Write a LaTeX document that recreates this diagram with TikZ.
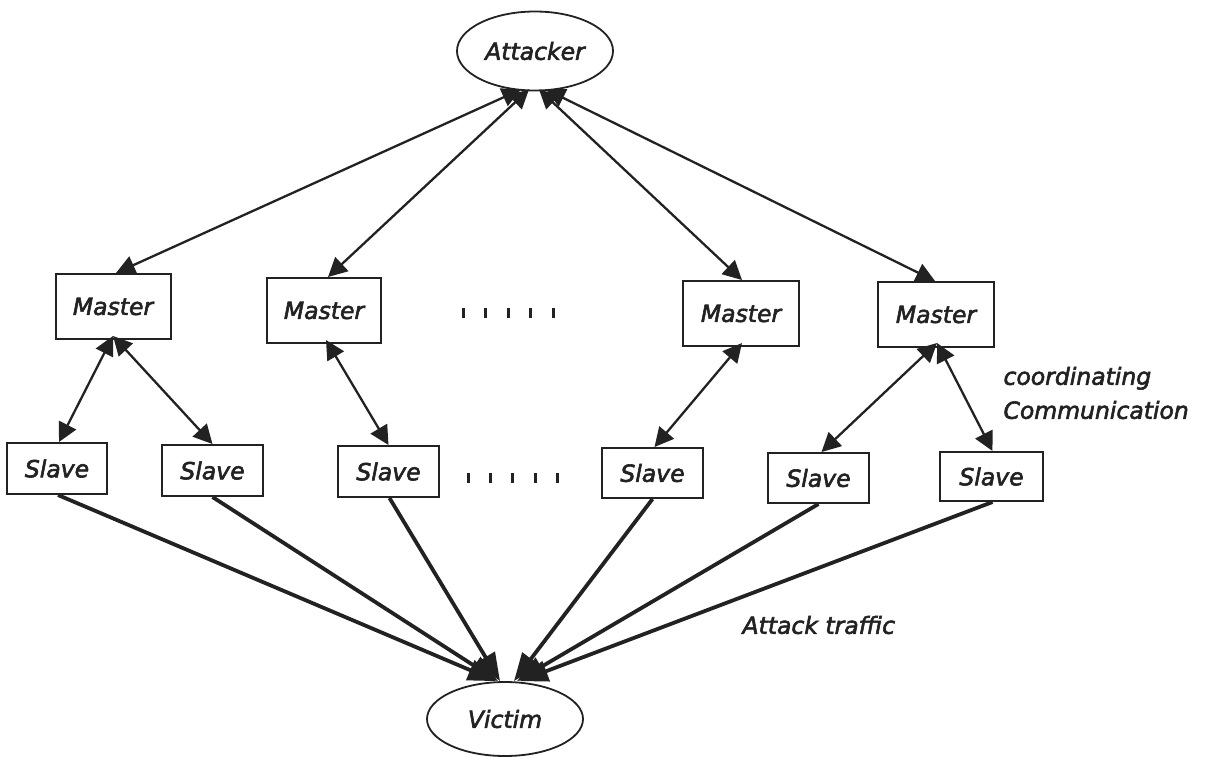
\documentclass[tikz,border=0pt]{standalone}
\usepackage{fontspec}
\setmainfont{DejaVu Sans}
\newfontfamily\lblfont{DejaVu Sans}[ItalicFeatures={FakeBold=2.5}]
\usetikzlibrary{arrows.meta,shapes.geometric}
\definecolor{ink}{HTML}{222222}
\begin{document}
\begin{tikzpicture}[x=1pt,y=-1pt,
  every node/.style={font=\fontsize{23.5}{34}\selectfont\lblfont\itshape, text=ink},
  ellnode/.style={ellipse, draw=ink, line width=1.8pt, inner sep=0pt},
  boxnode/.style={rectangle, draw=ink, line width=2pt, inner sep=0pt},
  ctrl/.style={draw=ink, line width=2.3pt, {Triangle[length=19pt,width=19pt]}-{Triangle[length=19pt,width=19pt]}},
  traffic/.style={draw=ink, line width=3.8pt, -{Triangle[length=28pt,width=21pt]}},
  dotbar/.style={draw=ink, line width=3pt}
]
\useasboundingbox (0,0) rectangle (1205,756);

\node[ellnode, minimum width=156pt, minimum height=79pt] (att) at (535,51) {Attacker};
\node[ellnode, minimum width=156pt, minimum height=74pt] (vic) at (505,719) {Victim};

\node[boxnode, minimum width=115pt, minimum height=65pt] (m1) at (113,306.5) {Master};
\node[boxnode, minimum width=114pt, minimum height=65pt] (m2) at (324,310.5) {Master};
\node[boxnode, minimum width=116pt, minimum height=65pt] (m3) at (741,313.5) {Master};
\node[boxnode, minimum width=116pt, minimum height=65pt] (m4) at (936,314.5) {Master};

\node[boxnode, minimum width=100pt, minimum height=51pt] (s1) at (57,468.5) {Slave};
\node[boxnode, minimum width=101pt, minimum height=51pt] (s2) at (212.5,470.5) {Slave};
\node[boxnode, minimum width=101pt, minimum height=51pt] (s3) at (388.5,471.5) {Slave};
\node[boxnode, minimum width=101pt, minimum height=50pt] (s4) at (652.5,473) {Slave};
\node[boxnode, minimum width=101pt, minimum height=50pt] (s5) at (818.5,478) {Slave};
\node[boxnode, minimum width=103pt, minimum height=49pt] (s6) at (991.5,476.5) {Slave};

\node[anchor=west, align=left] (coord) at (1000,393) {coordinating\\Communication};
\node[anchor=west] (traf) at (739,625) {Attack traffic};

% attacker <-> masters
\draw[ctrl] ([xshift=3pt]m1.north) -- ([xshift=-14pt,yshift=2pt]att.south);
\draw[ctrl] ([xshift=4pt]m2.north) -- ([xshift=-6pt,yshift=2pt]att.south);
\draw[ctrl] ([xshift=1pt]m3.north) -- ([xshift=4pt,yshift=2pt]att.south);
\draw[ctrl] ([xshift=-1pt]m4.north) -- ([xshift=11pt,yshift=2pt]att.south);

% masters <-> slaves
\draw[ctrl] ([yshift=4pt]m1.south) -- ([xshift=2pt]s1.north);
\draw[ctrl] ([yshift=4pt]m1.south) -- (s2.north);
\draw[ctrl] ([xshift=2pt,yshift=4pt]m2.south) -- (s3.north);
\draw[ctrl] ([xshift=1pt,yshift=4pt]m3.south) -- ([xshift=2pt]s4.north);
\draw[ctrl] ([xshift=1pt,yshift=5pt]m4.south) -- ([xshift=3pt]s5.north);
\draw[ctrl] ([xshift=1pt,yshift=5pt]m4.south) -- ([xshift=1pt]s6.north);

% attack traffic
\draw[traffic] ([xshift=1pt]s1.south) -- ([xshift=-9pt]vic.north);
\draw[traffic] (s2.south) -- ([xshift=-7pt]vic.north);
\draw[traffic] ([xshift=1pt]s3.south) -- ([xshift=-5pt]vic.north);
\draw[traffic] (s4.south) -- ([xshift=9pt]vic.north);
\draw[traffic] (s5.south) -- ([xshift=12pt]vic.north);
\draw[traffic] ([xshift=1pt]s6.south) -- ([xshift=15pt]vic.north);

% ellipsis marks
\foreach \x in {463,485.5,508,530.5,553} \draw[dotbar] (\x,308) -- (\x,318);
\foreach \x in {468,490,512.5,535,557} \draw[dotbar] (\x,473) -- (\x,483);
\end{tikzpicture}
\end{document}
